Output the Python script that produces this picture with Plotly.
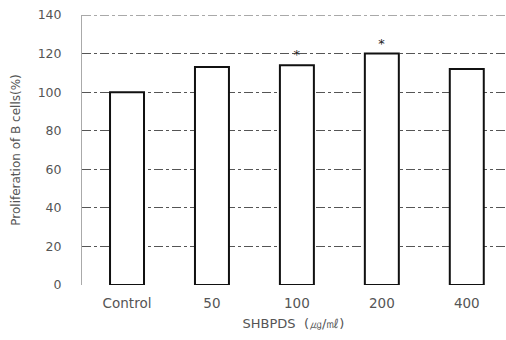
import plotly.graph_objects as go

categories = ["Control", "50", "100", "200", "400"]
values = [100, 113, 114, 120, 112]
stars = ["", "", "*", "*", ""]
y_ticks = [0, 20, 40, 60, 80, 100, 120, 140]

fig = go.Figure()
fig.add_trace(go.Bar(
    x=categories, y=values, width=0.4,
    marker=dict(color="white", line=dict(color="#111", width=2)),
    text=stars, textposition="outside",
    textfont=dict(size=13, color="#222"),
    cliponaxis=False,
))

# top gridline at the range edge
fig.add_shape(type="line", xref="paper", yref="y", x0=0, x1=1,
              y0=y_ticks[-1], y1=y_ticks[-1],
              line=dict(color="#555", width=1, dash="dashdot"))

fig.update_layout(
    width=506, height=340,
    margin=dict(l=82, r=1, t=15, b=55),
    paper_bgcolor="white", plot_bgcolor="white",
    showlegend=False,
    font=dict(family="DejaVu Sans, sans-serif", size=12, color="#555"),
    xaxis=dict(
        range=[-0.53, 4.45], showgrid=False, zeroline=False, showline=False,
        ticks="", tickfont=dict(size=13.5), ticklabelstandoff=8,
        title=dict(text="SHBPDS  (㎍/㎖)", font=dict(size=13), standoff=9),
    ),
    yaxis=dict(
        range=[0, 140], tickvals=y_ticks, showgrid=True,
        gridcolor="#555", griddash="dashdot", gridwidth=1,
        zeroline=False, showline=True, linecolor="#aaa", linewidth=1,
        ticks="", ticklen=0, tickfont=dict(size=12.5), ticklabelstandoff=17,
        title=dict(text="Proliferation of B cells(%)", font=dict(size=12), standoff=14),
    ),
)
fig.write_html("out.html")
